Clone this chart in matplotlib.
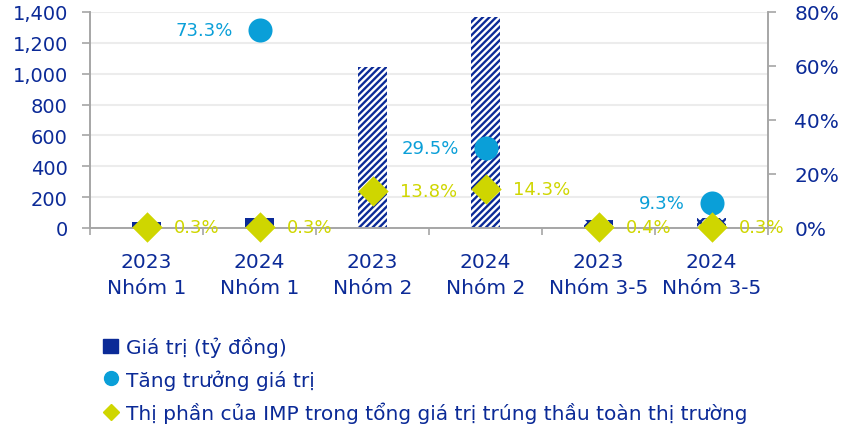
import matplotlib
matplotlib.use("Agg")
import matplotlib.pyplot as plt
import numpy as np
from matplotlib.lines import Line2D
from matplotlib.patches import Patch

plt.rcParams['font.family'] = ['DejaVu Sans']
plt.rcParams['hatch.linewidth'] = 1.7

categories = ["2023\nNhóm 1", "2024\nNhóm 1", "2023\nNhóm 2", "2024\nNhóm 2", "2023\nNhóm 3-5", "2024\nNhóm 3-5"]
values = [38, 62, 1045, 1365, 52, 62]
growth_idx = [1, 3, 5]
growth = [73.3, 29.5, 9.3]
share = [0.3, 0.3, 13.8, 14.3, 0.4, 0.3]

NAVY = "#0b2a97"
CYAN = "#0a9fd8"
LIME = "#cfd600"
GRID = "#ececec"
SPINE = "#a6a6a6"

fig = plt.figure(figsize=(8.52, 4.27), dpi=100)
ax = fig.add_axes([90 / 852, 1 - 229 / 427, (768 - 90) / 852, (229 - 13) / 427])
ax2 = ax.twinx()

x = np.arange(len(categories))
styles = [dict(color=NAVY), dict(color=NAVY),
          dict(facecolor="white", edgecolor=NAVY, hatch="/////"),
          dict(facecolor="white", edgecolor=NAVY, hatch="/////"),
          dict(facecolor="white", edgecolor=NAVY, hatch="xxx"),
          dict(facecolor="white", edgecolor=NAVY, hatch="xxx")]
for i in range(len(values)):
    ax.bar(x[i], values[i], width=0.26, linewidth=0, zorder=2, **styles[i])

ax.set_ylim(0, 1400)
ax.set_yticks(range(0, 1401, 200))
ax.set_yticklabels([f"{v:,}" for v in range(0, 1401, 200)])
ax.set_xlim(-0.5, len(categories) - 0.5)
ax.set_xticks(x)
ax.set_xticklabels(categories, color=NAVY, fontsize=14.5, linespacing=1.5)
ax.set_xticks(np.arange(-0.5, len(categories), 1), minor=True)
ax.tick_params(axis='x', which='major', length=0, pad=17)
ax.tick_params(axis='x', which='minor', length=5, color=SPINE, width=1.2, direction='out')
ax.tick_params(axis='y', labelsize=14, labelcolor=NAVY, length=6, color=SPINE, width=1.2, pad=10)
ax.grid(axis='y', color=GRID, linewidth=1.5, zorder=0)
ax.set_axisbelow(True)

ax2.set_ylim(0, 80)
ax2.set_yticks(range(0, 81, 20))
ax2.set_yticklabels([f"{v}%" for v in range(0, 81, 20)])
ax2.tick_params(axis='y', labelsize=14.5, labelcolor=NAVY, length=6, color=SPINE, width=1.2, pad=13)

for a in (ax, ax2):
    a.spines["top"].set_visible(False)
    for s in ("left", "right", "bottom"):
        a.spines[s].set_color(SPINE)
        a.spines[s].set_linewidth(1.2)

gx = [x[i] for i in growth_idx]
ax2.scatter(gx, growth, s=300, color=CYAN, zorder=4, clip_on=False, linewidths=0)
for xi, g in zip(gx, growth):
    ax2.annotate(f"{g}%", (xi, g), xytext=(-19, 0), textcoords="offset points",
                 ha="right", va="center", color=CYAN, fontsize=13)

ax2.scatter(x, share, s=240, marker="D", color=LIME, zorder=5, clip_on=False, linewidths=0)
for xi, s in zip(x, share):
    ax2.annotate(f"{s}%", (xi, s), xytext=(20, 0), textcoords="offset points",
                 ha="left", va="center", color=LIME, fontsize=13, annotation_clip=False)

handles = [Patch(facecolor=NAVY, edgecolor=NAVY),
           Line2D([], [], marker='o', color=CYAN, linestyle='', markersize=10),
           Line2D([], [], marker='D', color=LIME, linestyle='', markersize=8)]
labels = ["Giá trị (tỷ đồng)", "Tăng trưởng giá trị",
          "Thị phần của IMP trong tổng giá trị trúng thầu toàn thị trường"]
leg = fig.legend(handles, labels, loc="upper left", bbox_to_anchor=(103 / 852, 1 - 337 / 427),
                 frameon=False, fontsize=14.5, handlelength=0.75, handleheight=0.75,
                 handletextpad=0.4, labelspacing=0.6, borderaxespad=0, borderpad=0)
for t in leg.get_texts():
    t.set_color(NAVY)

fig.savefig("out.png", dpi=100)
